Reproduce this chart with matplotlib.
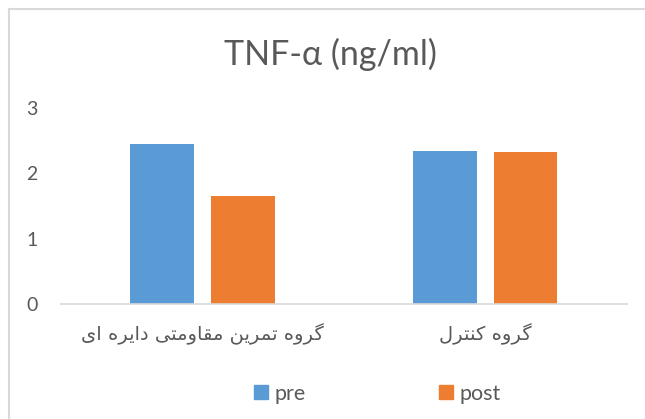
import numpy as np
import matplotlib.pyplot as plt
from matplotlib.patches import Patch
from matplotlib.lines import Line2D

# Données
groupes = ["گروه تمرین مقاومتی دایره ای", "گروه کنترل"]
series = ["pre", "post"]
pre = [2.45, 2.34]
post = [1.65, 2.33]
couleurs = ["#5b9bd5", "#ed7d31"]
titre = "TNF-α (ng/ml)"

# Formes de présentation arabes/persanes (isolée, finale, initiale, médiane)
formes = {
    "ا": ("\ufe8d", "\ufe8e"),
    "د": ("\ufea9", "\ufeaa"),
    "ر": ("\ufead", "\ufeae"),
    "و": ("\ufeed", "\ufeee"),
    "ه": ("\ufee9", "\ufeea", "\ufeeb", "\ufeec"),
    "ت": ("\ufe95", "\ufe96", "\ufe97", "\ufe98"),
    "م": ("\ufee1", "\ufee2", "\ufee3", "\ufee4"),
    "ن": ("\ufee5", "\ufee6", "\ufee7", "\ufee8"),
    "ق": ("\ufed5", "\ufed6", "\ufed7", "\ufed8"),
    "ل": ("\ufedd", "\ufede", "\ufedf", "\ufee0"),
    "ی": ("\ufbfc", "\ufbfd", "\ufbfe", "\ufbff"),
    "گ": ("\ufb92", "\ufb93", "\ufb94", "\ufb95"),
    "ک": ("\ufb8e", "\ufb8f", "\ufb90", "\ufb91"),
}


def faconner(texte):
    res = []
    for i, c in enumerate(texte):
        if c not in formes:
            res.append(c)
            continue
        prec = texte[i - 1] if i > 0 else ""
        suiv = texte[i + 1] if i + 1 < len(texte) else ""
        lie_prec = prec in formes and len(formes[prec]) == 4
        lie_suiv = len(formes[c]) == 4 and suiv in formes
        f = formes[c]
        if lie_prec and lie_suiv:
            res.append(f[3])
        elif lie_prec:
            res.append(f[1])
        elif lie_suiv:
            res.append(f[2])
        else:
            res.append(f[0])
    return "".join(res)[::-1]


plt.rcParams["font.family"] = ["Lato", "DejaVu Sans"]
gris = "#595959"

fig = plt.figure(figsize=(6.45, 4.19), dpi=100)
ax = fig.add_axes([0.0946, 0.2745, 0.8774, 0.4678])

x = np.arange(len(groupes))
larg = 0.223
dec = 0.143
ax.bar(x - dec, pre, larg, color=couleurs[0], label=series[0])
ax.bar(x + dec, post, larg, color=couleurs[1], label=series[1])

ax.set_xlim(-0.5, 1.5)
ax.set_ylim(0, 3)
ax.set_yticks([0, 1, 2, 3])
ax.set_xticks(x)
ax.set_xticklabels([faconner(g) for g in groupes], family=["DejaVu Sans"],
                   fontsize=12.3, color=gris)
for s in ["top", "right", "left"]:
    ax.spines[s].set_visible(False)
ax.spines["bottom"].set_color("#d9d9d9")
ax.spines["bottom"].set_linewidth(1.2)
ax.tick_params(axis="both", length=0, colors=gris, labelsize=14)
ax.tick_params(axis="y", pad=17)
ax.tick_params(axis="x", pad=14)

fig.text(0.513, 0.871, titre, ha="center", va="center", fontsize=24.5, color=gris)

handles = [Patch(color=couleurs[0]), Patch(color=couleurs[1])]
fig.legend(handles, series, loc="center", bbox_to_anchor=(0.585, 0.06), ncol=2,
           frameon=False, fontsize=15.5, labelcolor=gris, handlelength=0.65,
           handleheight=0.65, handletextpad=0.3, columnspacing=6.2)

# Cadre gris (haut et gauche)
fig.add_artist(Line2D([0.0136, 0.0136], [0, 0.978], color="#d9d9d9", lw=1.5,
                      transform=fig.transFigure))
fig.add_artist(Line2D([0.0136, 1], [0.978, 0.978], color="#d9d9d9", lw=1.5,
                      transform=fig.transFigure))

fig.savefig("out.png", dpi=100)
